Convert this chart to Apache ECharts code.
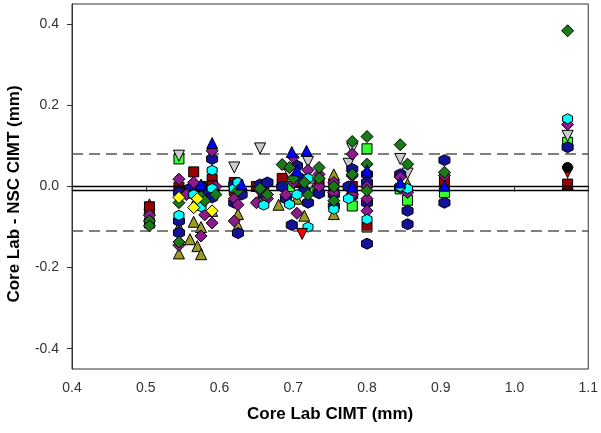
<!DOCTYPE html>
<html><head><meta charset="utf-8">
<script src="https://cdn.jsdelivr.net/npm/echarts@6/dist/echarts.min.js"></script>
<style>html,body{margin:0;padding:0;background:#fff}#c{width:601px;height:433px}</style>
</head><body><div id="c"></div>
<script>
// ---- data ----
const xTicks = [0.4,0.5,0.6,0.7,0.8,0.9,1.0,1.1];
const yTicks = [-0.4,-0.2,0.0,0.2,0.4];
const refSolid = [0.0, -0.011];
const refDashed = [0.084, -0.109];

const greenDiamond = [[0.505,-0.085],[0.505,-0.097],[0.545,-0.04],[0.545,-0.137],[0.575,-0.025],[0.58,-0.035],[0.595,-0.02],[0.625,-0.01],[0.655,-0.005],[0.665,-0.02],[0.685,0.054],[0.695,0.047],[0.70,0.02],[0.715,0.01],[0.72,-0.02],[0.735,0.047],[0.735,0.02],[0.755,-0.035],[0.755,0.0],[0.78,0.111],[0.78,0.03],[0.80,0.123],[0.80,0.055],[0.80,-0.01],[0.845,0.103],[0.855,0.055],[0.905,0.035],[1.072,0.384]];
const cyanHex = [[0.545,-0.071],[0.565,-0.02],[0.575,-0.05],[0.59,0.04],[0.59,-0.005],[0.62,-0.005],[0.625,0.01],[0.66,-0.046],[0.695,-0.044],[0.705,-0.02],[0.72,-0.1],[0.72,0.02],[0.755,-0.056],[0.775,-0.03],[0.80,-0.081],[0.855,-0.005],[0.845,0.0],[1.072,0.167]];
const purpleDiamond = [[0.505,-0.071],[0.545,0.018],[0.545,-0.145],[0.555,-0.02],[0.565,0.01],[0.57,-0.03],[0.58,-0.07],[0.59,0.088],[0.59,-0.09],[0.595,0.0],[0.575,-0.122],[0.62,-0.03],[0.625,-0.045],[0.62,-0.085],[0.655,-0.01],[0.665,-0.03],[0.65,-0.04],[0.69,-0.02],[0.70,0.072],[0.70,0.01],[0.705,-0.066],[0.72,0.04],[0.735,0.03],[0.735,0.0],[0.755,0.01],[0.755,-0.015],[0.78,0.08],[0.78,0.026],[0.78,-0.02],[0.80,0.0],[0.80,-0.03],[0.80,-0.06],[0.845,0.023],[0.855,-0.015],[0.905,0.027],[1.072,0.153]];
const navyHex = [[0.545,-0.015],[0.545,-0.085],[0.545,-0.114],[0.56,-0.005],[0.565,-0.02],[0.57,-0.045],[0.575,0.0],[0.585,-0.015],[0.59,0.068],[0.59,-0.027],[0.62,0.005],[0.62,-0.04],[0.625,-0.115],[0.63,-0.02],[0.655,0.005],[0.665,0.01],[0.66,-0.02],[0.685,0.0],[0.69,-0.03],[0.698,-0.095],[0.705,0.051],[0.71,0.02],[0.715,-0.01],[0.72,-0.04],[0.735,-0.017],[0.755,-0.048],[0.755,-0.02],[0.78,0.043],[0.78,-0.023],[0.775,0.0],[0.80,0.03],[0.80,0.01],[0.80,-0.04],[0.80,-0.141],[0.845,0.03],[0.845,-0.002],[0.855,-0.06],[0.855,-0.093],[0.905,0.065],[0.905,-0.04],[1.072,0.097]];
const oliveTriangle = [[0.505,-0.044],[0.505,-0.054],[0.545,-0.1],[0.545,-0.165],[0.565,-0.087],[0.56,-0.13],[0.575,-0.1],[0.57,-0.147],[0.575,-0.167],[0.59,-0.06],[0.625,-0.068],[0.625,-0.097],[0.655,-0.03],[0.68,-0.045],[0.705,-0.03],[0.715,-0.072],[0.735,0.002],[0.755,0.03],[0.755,-0.068],[0.78,-0.006],[0.80,0.01],[0.855,0.006],[0.905,-0.031],[1.072,0.006]];
const darkRedSquare = [[0.505,-0.05],[0.545,-0.002],[0.565,0.036],[0.575,0.0],[0.59,0.018],[0.59,0.002],[0.62,0.01],[0.62,-0.01],[0.65,0.0],[0.66,-0.005],[0.685,0.02],[0.69,0.0],[0.705,0.01],[0.735,0.01],[0.755,0.005],[0.78,0.0],[0.80,-0.1],[0.905,0.014],[1.072,0.006]];
const limeSquare = [[0.505,-0.09],[0.545,0.068],[0.58,-0.01],[0.695,0.0],[0.72,-0.01],[0.78,-0.048],[0.80,0.093],[0.845,-0.006],[0.855,-0.034],[0.905,-0.015],[1.072,0.109]];
const greyDownTri = [[0.545,0.076],[0.62,0.047],[0.655,0.094],[0.72,0.061],[0.695,0.03],[0.72,-0.005],[0.78,0.093],[0.775,0.056],[0.845,0.068],[0.855,0.032],[1.072,0.125]];
const blueTriangle = [[0.59,0.107],[0.575,0.005],[0.63,0.005],[0.698,0.085],[0.718,0.088],[0.705,0.04],[0.78,0.0],[0.80,0.04],[0.845,0.01],[0.905,0.002]];
const yellowDiamond = [[0.545,-0.027],[0.565,-0.052],[0.59,-0.06],[0.57,-0.03]];
const redDownTri = [[0.712,-0.117],[1.072,0.035]];
const blackCircle = [[1.072,0.047]];

// ---- chart ----
const HEX = 'path://M5,0 L9.33,2.5 L9.33,7.5 L5,10 L0.67,7.5 L0.67,2.5 Z';
const DOWN = 'path://M0,0 L10,0 L5,9 Z';
const defs = [
  [oliveTriangle,'triangle','#9a9a22',11],
  [darkRedSquare,'rect','#990000',10],
  [limeSquare,'rect','#33ff33',10],
  [greyDownTri,DOWN,'#cccccc',11],
  [navyHex,HEX,'#111199',11],
  [purpleDiamond,'diamond','#8b1a8b',12],
  [cyanHex,HEX,'#00ffff',10],
  [greenDiamond,'diamond','#1a7a1a',12],
  [blueTriangle,'triangle','#0000ff',11],
  [yellowDiamond,'diamond','#ffff00',12],
  [redDownTri,DOWN,'#ff0000',11],
  [blackCircle,'circle','#000000',10]
];
const series = defs.map((d,i)=>({
  type:'scatter', data:d[0], symbol:d[1], symbolSize:d[3],
  itemStyle:{color:d[2], borderColor:'#000', borderWidth:1, opacity:1},
  z: 3+i, silent:true, animation:false
}));
series.push({
  type:'scatter', data:[], silent:true, animation:false, z:2,
  markLine:{symbol:'none', silent:true, animation:false, label:{show:false},
    data: refSolid.map(v=>({yAxis:v, lineStyle:{color:'#000', width:1.3, type:'solid'}}))
      .concat(refDashed.map(v=>({yAxis:v, lineStyle:{color:'#555', width:1.5, type:[11,6]}})))
  }
});

const font = 'Liberation Sans, Arial, sans-serif';
const chart = echarts.init(document.getElementById('c'), null, {renderer:'canvas'});
chart.setOption({
  backgroundColor:'#fff',
  animation:false,
  grid:{left:72, right:10, top:4, bottom:64, show:true, borderColor:'#333', borderWidth:1},
  graphic:[{type:'text', rotation:Math.PI/2,
    x:14, y:194,
    style:{text:'Core Lab - NSC CIMT (mm)', font:'bold 17px '+font, fill:'#000', align:'center', verticalAlign:'middle'}}],
  xAxis:{type:'value', min:0.4, max:1.1, interval:0.1,
    name:'Core Lab CIMT (mm)', nameLocation:'middle', nameGap:37,
    nameTextStyle:{fontFamily:font, fontSize:17, fontWeight:'bold', color:'#000'},
    axisLine:{show:true, lineStyle:{color:'#333', width:1}},
    axisTick:{show:true, length:5, lineStyle:{color:'#333'}},
    axisLabel:{fontFamily:font, fontSize:14, color:'#333', margin:12, formatter:v=>v.toFixed(1)},
    splitLine:{show:false}},
  yAxis:{type:'value', min:-0.45, max:0.45,
    axisLine:{show:true, lineStyle:{color:'#333', width:1}},
    axisTick:{show:true, length:5, lineStyle:{color:'#333'}, customValues:yTicks},
    axisLabel:{fontFamily:font, fontSize:14, color:'#333', margin:13, customValues:yTicks, formatter:v=>v.toFixed(1)},
    splitLine:{show:false}},
  series:series
});
</script></body></html>
